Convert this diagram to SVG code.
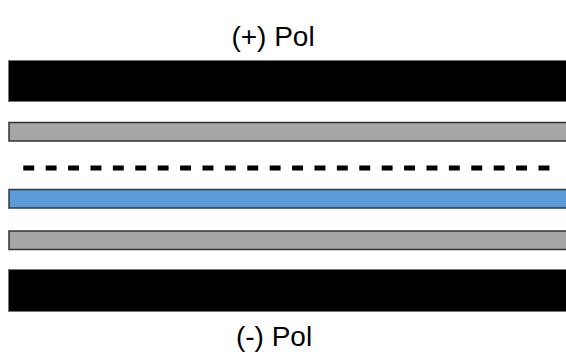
<svg xmlns="http://www.w3.org/2000/svg" width="566" height="363" viewBox="0 0 566 363">
<style>
.lbl{font-family:"Liberation Sans",Arial,sans-serif;font-size:28px;fill:#000;text-anchor:middle}
.elec{fill:#000;stroke:#777;stroke-width:1}
.sep{fill:#a6a6a6;stroke:#333;stroke-width:1.5}
.mid{fill:#5b9bd5;stroke:#2a3a4a;stroke-width:1.5}
</style>
<rect width="566" height="363" fill="#fff"/>
<g id="pos-label"><text class="lbl" x="273" y="46">(+) Pol</text></g>
<g id="electrode-top"><rect class="elec" x="8.5" y="60.5" width="570" height="41"/></g>
<g id="separator-top"><rect class="sep" x="9" y="122.5" width="570" height="18.5"/></g>
<g id="dashed-line"><line x1="23.3" y1="168" x2="549.5" y2="168" stroke="#000" stroke-width="5" stroke-dasharray="10.9 11.5"/></g>
<g id="blue-layer"><rect class="mid" x="9" y="189.5" width="570" height="18.5"/></g>
<g id="separator-bottom"><rect class="sep" x="9" y="231" width="570" height="18.5"/></g>
<g id="electrode-bottom"><rect class="elec" x="8.5" y="269.5" width="570" height="42"/></g>
<g id="neg-label"><text class="lbl" x="274" y="346">(-) Pol</text></g>
</svg>
